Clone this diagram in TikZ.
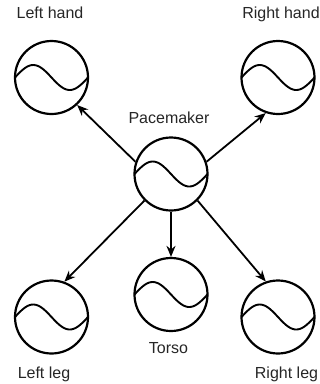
\documentclass[tikz,border=0pt]{standalone}
\usepackage{fontspec}
\setmainfont{Liberation Sans}
\usetikzlibrary{arrows.meta}
\begin{document}
\begin{tikzpicture}[x=1pt,y=-1pt,
  osc/.style={circle,draw,line width=2.2pt,minimum size=73pt,inner sep=0pt},
  lbl/.style={anchor=base,inner sep=0pt,font=\fontsize{16}{19}\selectfont,text=black!85},
  conn/.style={line width=1.8pt,-{Stealth[length=11pt,width=9pt]}},
  wave/.style={line width=1.9pt}]
\useasboundingbox (0,0) rectangle (320,384);
\node[osc] (lh) at (51.5,77.5) {};
\node[osc] (rh) at (278,77.5) {};
\node[osc] (pm) at (171,174) {};
\node[osc] (ll) at (51.5,317) {};
\node[osc] (to) at (171,294.5) {};
\node[osc] (rl) at (278,317) {};
\foreach \n in {lh,rh,pm,ll,to,rl}{
  \draw[wave,shift={(\n.center)}] plot[domain=-36.5:36.5,samples=50,smooth] (\x,{12.5*sin(\x*360/73)});
}
\node[lbl] (tlh) at (50,18) {Left hand};
\node[lbl] (trh) at (281,18) {Right hand};
\node[lbl] (tpm) at (169,123) {Pacemaker};
\node[lbl] (tto) at (168.5,353) {Torso};
\node[lbl] (tll) at (44,378) {Left leg};
\node[lbl] (trl) at (286.5,378) {Right leg};
\draw[conn] (pm.161) -- (lh.-47);
\draw[conn] (pm.19) -- (rh.251);
\draw[conn] (pm.225) -- (ll.70);
\draw[conn] (pm.315) -- (rl.109);
\draw[conn] (pm.south) -- (to.north);
\end{tikzpicture}
\end{document}
